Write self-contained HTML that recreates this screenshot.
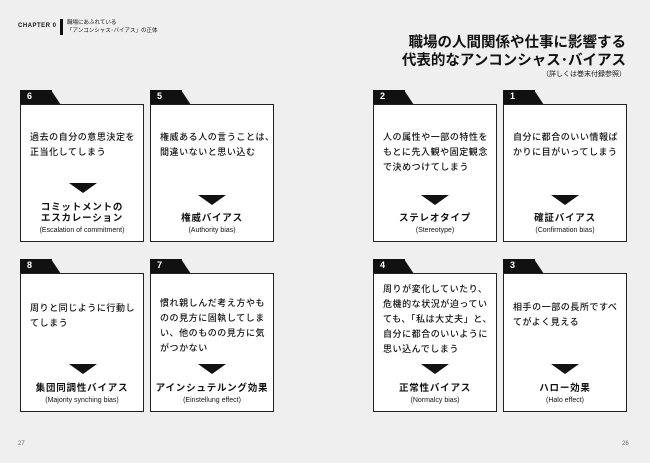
<!DOCTYPE html>
<html><head><meta charset="utf-8"><style>
body{margin:0;width:650px;height:463px;background:#efefef;position:relative;overflow:hidden;font-family:"Liberation Sans","Noto Sans CJK JP",sans-serif;color:#111}
.a{position:absolute;white-space:nowrap}
.box{position:absolute;width:124px;background:#fff;border:1.5px solid #222;box-sizing:border-box}
.tab{position:absolute;height:15px;width:32px;background:#111}
.tab:after{content:"";position:absolute;left:31px;top:0;border-bottom:15px solid #111;border-right:10px solid transparent}
.tab span{position:absolute;left:7px;top:1px;color:#fff;font-size:9px;font-weight:bold}
.t{position:absolute;font-size:9px;font-weight:500;letter-spacing:0.55px;line-height:15px;white-space:nowrap}
.tri{position:absolute;width:0;height:0;border-left:14px solid transparent;border-right:14px solid transparent;border-top:10px solid #111}
.n{position:absolute;width:124px;text-align:center;font-size:9.5px;font-weight:bold;letter-spacing:0.8px;line-height:11px}
.e{position:absolute;width:124px;text-align:center;font-size:7px;line-height:9px}
</style></head><body>
<div class="a" style="left:18px;top:23px;font-size:6px;font-weight:bold;letter-spacing:0.5px">CHAPTER 0</div>
<div class="a" style="left:60px;top:19px;width:3px;height:16px;background:#111"></div>
<div class="a" style="left:67px;top:19px;font-size:5.5px;line-height:8px">職場にあふれている<br>「アンコンシャス･バイアス」の正体</div>
<div class="a" style="right:24px;top:34px;font-size:14.5px;font-weight:bold;line-height:18px;text-align:right">職場の人間関係や仕事に影響する<br>代表的なアンコンシャス･バイアス</div>
<div class="a" style="right:24px;top:69px;font-size:7px">（詳しくは巻末付録参照）</div>
<div class="a" style="left:18px;top:441px;font-size:6px;color:#666">27</div>
<div class="a" style="left:622px;top:441px;font-size:6px;color:#666">26</div>

<div class="tab" style="left:20px;top:90px"><span>6</span></div>
<div class="box" style="left:20px;top:104px;height:138px"></div>
<div class="t" style="left:30px;top:130px">過去の自分の意思決定を<br>正当化してしまう</div>
<div class="tri" style="left:69px;top:183px"></div>
<div class="n" style="left:20px;top:202px">コミットメントの<br>エスカレーション</div>
<div class="e" style="left:20px;top:226px">(Escalation of commitment)</div>

<div class="tab" style="left:150px;top:90px"><span>5</span></div>
<div class="box" style="left:150px;top:104px;height:138px"></div>
<div class="t" style="left:160px;top:130px">権威ある人の言うことは、<br>間違いないと思い込む</div>
<div class="tri" style="left:198px;top:195px"></div>
<div class="n" style="left:150px;top:213px">権威バイアス</div>
<div class="e" style="left:150px;top:226px">(Authority bias)</div>

<div class="tab" style="left:373px;top:90px"><span>2</span></div>
<div class="box" style="left:373px;top:104px;height:138px"></div>
<div class="t" style="left:383px;top:130px">人の属性や一部の特性を<br>もとに先入観や固定観念<br>で決めつけてしまう</div>
<div class="tri" style="left:421px;top:195px"></div>
<div class="n" style="left:373px;top:213px">ステレオタイプ</div>
<div class="e" style="left:373px;top:226px">(Stereotype)</div>

<div class="tab" style="left:503px;top:90px"><span>1</span></div>
<div class="box" style="left:503px;top:104px;height:138px"></div>
<div class="t" style="left:513px;top:130px">自分に都合のいい情報ば<br>かりに目がいってしまう</div>
<div class="tri" style="left:551px;top:195px"></div>
<div class="n" style="left:503px;top:213px">確証バイアス</div>
<div class="e" style="left:503px;top:226px">(Confirmation bias)</div>

<div class="tab" style="left:20px;top:259px"><span>8</span></div>
<div class="box" style="left:20px;top:273px;height:139px"></div>
<div class="t" style="left:30px;top:301px">周りと同じように行動し<br>てしまう</div>
<div class="tri" style="left:69px;top:364px"></div>
<div class="n" style="left:20px;top:383px">集団同調性バイアス</div>
<div class="e" style="left:20px;top:396px">(Majority synching bias)</div>

<div class="tab" style="left:150px;top:259px"><span>7</span></div>
<div class="box" style="left:150px;top:273px;height:139px"></div>
<div class="t" style="left:160px;top:296px">慣れ親しんだ考え方やも<br>のの見方に固執してしま<br>い、他のものの見方に気<br>がつかない</div>
<div class="tri" style="left:198px;top:364px"></div>
<div class="n" style="left:150px;top:383px">アインシュテルング効果</div>
<div class="e" style="left:150px;top:396px">(Einstellung effect)</div>

<div class="tab" style="left:373px;top:259px"><span>4</span></div>
<div class="box" style="left:373px;top:273px;height:139px"></div>
<div class="t" style="left:383px;top:282px">周りが変化していたり、<br>危機的な状況が迫ってい<br>ても、「私は大丈夫」と、<br>自分に都合のいいように<br>思い込んでしまう</div>
<div class="tri" style="left:421px;top:364px"></div>
<div class="n" style="left:373px;top:383px">正常性バイアス</div>
<div class="e" style="left:373px;top:396px">(Normalcy bias)</div>

<div class="tab" style="left:503px;top:259px"><span>3</span></div>
<div class="box" style="left:503px;top:273px;height:139px"></div>
<div class="t" style="left:513px;top:300px">相手の一部の長所ですべ<br>てがよく見える</div>
<div class="tri" style="left:551px;top:364px"></div>
<div class="n" style="left:503px;top:383px">ハロー効果</div>
<div class="e" style="left:503px;top:396px">(Halo effect)</div>
</body></html>
